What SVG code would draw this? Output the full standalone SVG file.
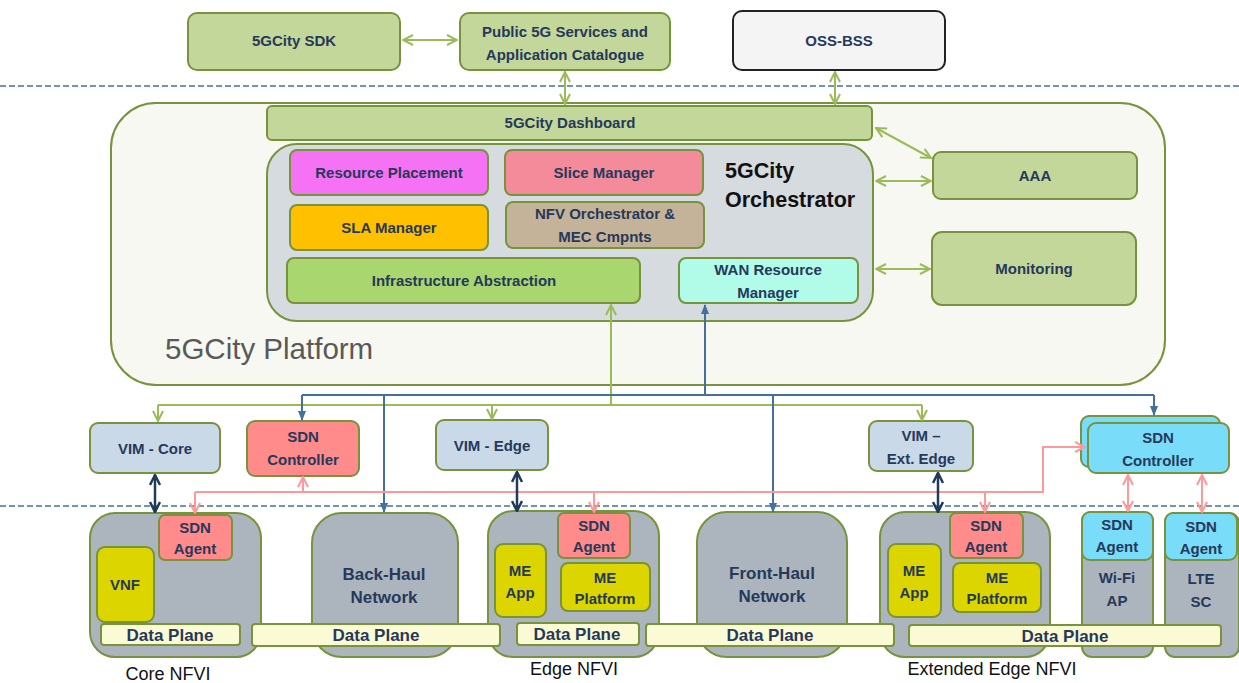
<svg xmlns="http://www.w3.org/2000/svg" width="1239" height="683" viewBox="0 0 1239 683">
<defs>
<style>
.t{font-family:"Liberation Sans",Arial,sans-serif;font-weight:bold;font-size:15px;fill:#26395A;text-anchor:middle}
.d{font-size:17px}
.lbl{font-family:"Liberation Sans",Arial,sans-serif;font-size:18px;fill:#111;text-anchor:middle}
.g{fill:#C4D79B;stroke:#77933C;stroke-width:2}
.nfvi{fill:#ACB5BD;stroke:#77933C;stroke-width:2}
.red{fill:#FF8B8B;stroke:#77933C;stroke-width:2}
.cyan{fill:#79DCF9;stroke:#77933C;stroke-width:2}
.yel{fill:#DDD500;stroke:#77933C;stroke-width:2}
.dp{fill:#FAFBD4;stroke:#77933C;stroke-width:2}
.vim{fill:#C9D9E8;stroke:#77933C;stroke-width:2}
.dash{stroke:#41719C;stroke-width:1.5;stroke-dasharray:6 3;fill:none}
.cg{stroke:#9BBB59;stroke-width:2;fill:none}
.cb{stroke:#41719C;stroke-width:2;fill:none}
.cp{stroke:#FF9999;stroke-width:2;fill:none}
.cn{stroke:#1F3A5A;stroke-width:2.5;fill:none}
</style>
<marker id="ag" viewBox="0 0 12 12" refX="11" refY="6" markerWidth="12" markerHeight="12" markerUnits="userSpaceOnUse" orient="auto-start-reverse"><path d="M1,1 L11,6 L1,11" fill="none" stroke="#9BBB59" stroke-width="2"/></marker>
<marker id="ab" viewBox="0 0 10 10" refX="9" refY="5" markerWidth="10" markerHeight="10" markerUnits="userSpaceOnUse" orient="auto-start-reverse"><path d="M0,1 L10,5 L0,9 z" fill="#41719C"/></marker>
<marker id="ap" viewBox="0 0 12 12" refX="11" refY="6" markerWidth="12" markerHeight="12" markerUnits="userSpaceOnUse" orient="auto-start-reverse"><path d="M1,1 L11,6 L1,11" fill="none" stroke="#FF9999" stroke-width="2"/></marker>
<marker id="an" viewBox="0 0 12 12" refX="11" refY="6" markerWidth="12" markerHeight="12" markerUnits="userSpaceOnUse" orient="auto-start-reverse"><path d="M1,1 L11,6 L1,11" fill="none" stroke="#1F3A5A" stroke-width="2.5"/></marker>
</defs>
<rect width="1239" height="683" fill="#fff"/>
<line class="dash" x1="0" y1="86" x2="1239" y2="86"/>
<line class="dash" x1="0" y1="506" x2="1239" y2="506"/>

<g id="sdk"><rect class="g" x="188" y="13" width="212" height="57" rx="9"/><text class="t" x="294" y="46">5GCity SDK</text></g>
<g id="catalogue"><rect class="g" x="460" y="13" width="210" height="57" rx="9"/><text class="t" x="565" y="37">Public 5G Services and</text><text class="t" x="565" y="60">Application Catalogue</text></g>
<g id="ossbss"><rect x="733" y="11" width="212" height="59" rx="9" fill="#F4F4F4" stroke="#222" stroke-width="2"/><text class="t" x="839" y="46">OSS-BSS</text></g>

<g id="platform"><rect x="111" y="103" width="1054" height="282" rx="45" fill="#F7F8F1" stroke="#77933C" stroke-width="2"/><text x="165" y="359" font-family="Liberation Sans, Arial, sans-serif" font-size="29.5" fill="#595959">5GCity Platform</text></g>
<g id="dashboard"><rect class="g" x="267" y="106" width="605" height="34" rx="5"/><text class="t" x="570" y="128">5GCity Dashboard</text></g>
<g id="orchestrator"><rect x="267" y="144" width="606" height="177" rx="30" fill="#D6DBE0" stroke="#77933C" stroke-width="2"/><text x="725" y="178" font-family="Liberation Sans, Arial, sans-serif" font-weight="bold" font-size="21.5" fill="#111">5GCity</text><text x="725" y="207" font-family="Liberation Sans, Arial, sans-serif" font-weight="bold" font-size="21.5" fill="#111">Orchestrator</text></g>
<g id="resource-placement"><rect x="290" y="150" width="198" height="45" rx="7" fill="#F572F5" stroke="#77933C" stroke-width="2"/><text class="t" x="389" y="178">Resource Placement</text></g>
<g id="slice-manager"><rect x="505" y="150" width="198" height="45" rx="7" fill="#F48B9B" stroke="#77933C" stroke-width="2"/><text class="t" x="604" y="178">Slice Manager</text></g>
<g id="sla-manager"><rect x="290" y="205" width="198" height="45" rx="7" fill="#FFC000" stroke="#77933C" stroke-width="2"/><text class="t" x="389" y="233">SLA Manager</text></g>
<g id="nfvo"><rect x="506" y="202" width="198" height="46" rx="7" fill="#C4B398" stroke="#77933C" stroke-width="2"/><text class="t" x="605" y="219">NFV Orchestrator &amp;</text><text class="t" x="605" y="242">MEC Cmpnts</text></g>
<g id="infra-abstraction"><rect x="287" y="258" width="353" height="45" rx="7" fill="#A9D66F" stroke="#77933C" stroke-width="2"/><text class="t" x="464" y="286">Infrastructure Abstraction</text></g>
<g id="wan-rm"><rect x="679" y="258" width="179" height="45" rx="7" fill="#B0FCE8" stroke="#77933C" stroke-width="2"/><text class="t" x="768" y="275">WAN Resource</text><text class="t" x="768" y="298">Manager</text></g>
<g id="aaa"><rect class="g" x="933" y="152" width="204" height="47" rx="8"/><text class="t" x="1035" y="181">AAA</text></g>
<g id="monitoring"><rect class="g" x="932" y="232" width="204" height="73" rx="10"/><text class="t" x="1034" y="274">Monitoring</text></g>

<g id="vim-core"><rect class="vim" x="90" y="423" width="130" height="50" rx="8"/><text class="t" x="155" y="454">VIM - Core</text></g>
<g id="sdn-ctrl-red"><rect class="red" x="247" y="421" width="112" height="55" rx="8"/><text class="t" x="303" y="442">SDN</text><text class="t" x="303" y="465">Controller</text></g>
<g id="vim-edge"><rect class="vim" x="436" y="420" width="112" height="50" rx="8"/><text class="t" x="492" y="451">VIM - Edge</text></g>
<g id="vim-ext-edge"><rect class="vim" x="869" y="421" width="104" height="50" rx="8"/><text class="t" x="921" y="441">VIM –</text><text class="t" x="921" y="464">Ext. Edge</text></g>
<g id="sdn-ctrl-cyan"><rect class="cyan" x="1081" y="416" width="139" height="51" rx="8"/><rect class="cyan" x="1088" y="423" width="141" height="50" rx="8"/><text class="t" x="1158" y="443">SDN</text><text class="t" x="1158" y="466">Controller</text></g>

<g id="core-nfvi"><rect class="nfvi" x="90" y="513" width="171" height="144" rx="25"/><rect class="red" x="159" y="515" width="73" height="45" rx="6"/><text class="t" x="195" y="533">SDN</text><text class="t" x="195" y="554">Agent</text><rect class="yel" x="97" y="547" width="57" height="75" rx="8"/><text class="t" x="125" y="590">VNF</text><text class="lbl" x="168" y="680">Core NFVI</text></g>
<g id="backhaul"><rect class="nfvi" x="312" y="513" width="146" height="144" rx="30"/><text class="t d" x="384" y="580">Back-Haul</text><text class="t d" x="384" y="603">Network</text></g>
<g id="edge-nfvi"><rect class="nfvi" x="488" y="511" width="171" height="146" rx="25"/><rect class="red" x="558" y="513" width="72" height="45" rx="6"/><text class="t" x="594" y="531">SDN</text><text class="t" x="594" y="552">Agent</text><rect class="yel" x="495" y="544" width="51" height="73" rx="8"/><text class="t" x="520" y="576">ME</text><text class="t" x="520" y="598">App</text><rect class="yel" x="561" y="563" width="89" height="48" rx="7"/><text class="t" x="605" y="583">ME</text><text class="t" x="605" y="604">Platform</text><text class="lbl" x="574" y="675">Edge NFVI</text></g>
<g id="fronthaul"><rect class="nfvi" x="697" y="512" width="150" height="145" rx="30"/><text class="t d" x="772" y="579">Front-Haul</text><text class="t d" x="772" y="602">Network</text></g>
<g id="ext-edge-nfvi"><rect class="nfvi" x="880" y="512" width="170" height="145" rx="25"/><rect class="red" x="950" y="513" width="73" height="45" rx="6"/><text class="t" x="986" y="531">SDN</text><text class="t" x="986" y="552">Agent</text><rect class="yel" x="888" y="544" width="53" height="73" rx="8"/><text class="t" x="914" y="576">ME</text><text class="t" x="914" y="598">App</text><rect class="yel" x="953" y="563" width="88" height="49" rx="7"/><text class="t" x="997" y="583">ME</text><text class="t" x="997" y="604">Platform</text><text class="lbl" x="992" y="675">Extended Edge NFVI</text></g>
<g id="wifi-ap"><rect class="nfvi" x="1082" y="512" width="71" height="145" rx="10"/><rect class="cyan" x="1082" y="512" width="71" height="48" rx="8"/><text class="t" x="1117" y="530">SDN</text><text class="t" x="1117" y="552">Agent</text><text class="t" x="1117" y="583">Wi-Fi</text><text class="t" x="1117" y="606">AP</text></g>
<g id="lte-sc"><rect class="nfvi" x="1165" y="513" width="74" height="144" rx="10"/><rect class="cyan" x="1165" y="513" width="72" height="47" rx="8"/><text class="t" x="1201" y="532">SDN</text><text class="t" x="1201" y="554">Agent</text><text class="t" x="1201" y="584">LTE</text><text class="t" x="1201" y="607">SC</text></g>

<g id="dp-core"><rect class="dp" x="101" y="624" width="139" height="21" rx="3"/><text class="t d" x="170" y="641">Data Plane</text></g>
<g id="dp-backhaul"><rect class="dp" x="252" y="624" width="248" height="22" rx="3"/><text class="t d" x="376" y="641">Data Plane</text></g>
<g id="dp-edge"><rect class="dp" x="517" y="623" width="122" height="22" rx="3"/><text class="t d" x="577" y="640">Data Plane</text></g>
<g id="dp-fronthaul"><rect class="dp" x="646" y="624" width="248" height="22" rx="3"/><text class="t d" x="770" y="641">Data Plane</text></g>
<g id="dp-ext"><rect class="dp" x="909" y="625" width="312" height="21" rx="3"/><text class="t d" x="1065" y="642">Data Plane</text></g>

<g id="connectors">
<line class="cg" x1="403" y1="40" x2="457" y2="40" marker-start="url(#ag)" marker-end="url(#ag)"/>
<line class="cg" x1="565" y1="72" x2="565" y2="104" marker-start="url(#ag)" marker-end="url(#ag)"/>
<line class="cg" x1="835" y1="72" x2="835" y2="104" marker-start="url(#ag)" marker-end="url(#ag)"/>
<line class="cg" x1="876" y1="128" x2="931" y2="158" marker-start="url(#ag)" marker-end="url(#ag)"/>
<line class="cg" x1="876" y1="181" x2="931" y2="181" marker-start="url(#ag)" marker-end="url(#ag)"/>
<line class="cg" x1="876" y1="269" x2="930" y2="269" marker-start="url(#ag)" marker-end="url(#ag)"/>
<path class="cg" d="M611,405 V305" marker-end="url(#ag)"/>
<path class="cg" d="M158,405 H922"/>
<path class="cg" d="M158,405 V421" marker-end="url(#ag)"/>
<path class="cg" d="M492,405 V419" marker-end="url(#ag)"/>
<path class="cg" d="M922,405 V420" marker-end="url(#ag)"/>
<path class="cb" d="M705,395 V305" marker-end="url(#ab)"/>
<path class="cb" d="M302,395 H1154"/>
<path class="cb" d="M302,395 V420" marker-end="url(#ab)"/>
<path class="cb" d="M1154,395 V415" marker-end="url(#ab)"/>
<path class="cb" d="M384,395 V512" marker-end="url(#ab)"/>
<path class="cb" d="M773,395 V512" marker-end="url(#ab)"/>
<path class="cp" d="M195,492 H1043 V447 H1085" marker-end="url(#ap)"/>
<path class="cp" d="M195,492 V513" marker-end="url(#ap)"/>
<path class="cp" d="M594,492 V512" marker-end="url(#ap)"/>
<path class="cp" d="M985,492 V512" marker-end="url(#ap)"/>
<path class="cp" d="M303,492 V477" marker-end="url(#ap)"/>
<line class="cp" x1="1128" y1="475" x2="1128" y2="511" marker-start="url(#ap)" marker-end="url(#ap)"/>
<line class="cp" x1="1202" y1="475" x2="1202" y2="512" marker-start="url(#ap)" marker-end="url(#ap)"/>
<line class="cn" x1="155" y1="475" x2="155" y2="512" marker-start="url(#an)" marker-end="url(#an)"/>
<line class="cn" x1="517" y1="472" x2="517" y2="511" marker-start="url(#an)" marker-end="url(#an)"/>
<line class="cn" x1="938" y1="473" x2="938" y2="512" marker-start="url(#an)" marker-end="url(#an)"/>
</g>
</svg>
